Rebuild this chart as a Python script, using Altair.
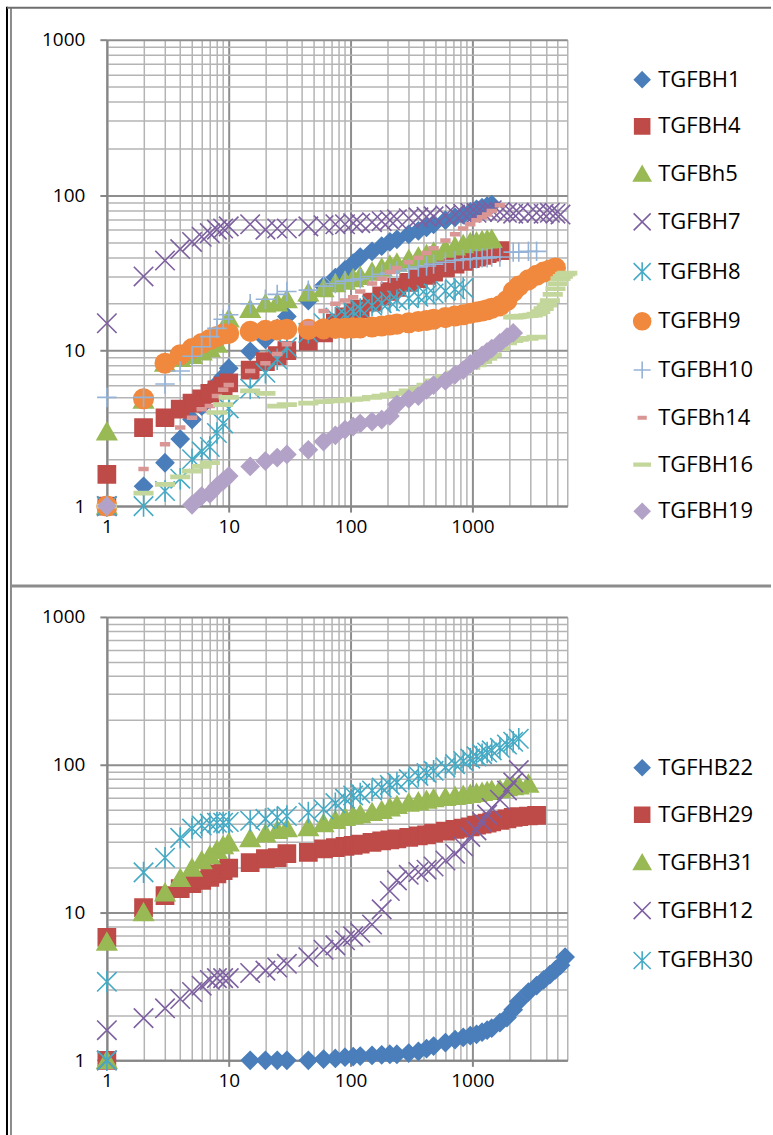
import altair as alt
import pandas as pd

# ---------------- data ----------------
TIMES = [1, 1, 2, 3, 4, 5, 6, 7, 8, 9, 10,
         15, 20, 25, 30, 45, 60,
         75, 90, 105, 120,
         150, 180, 210, 240,
         300, 360, 420, 480,
         600, 720, 840, 960,
         1080, 1200, 1320, 1440,
         1680, 1920, 2160, 2400,
         2880, 3360, 3840, 4320, 4800, 5280, 5760]

N = None
TGFBH1 = [1, N, 1.34, 1.9, 2.7, 3.6, 4.4, 5.2, 6.1, 6.8, 7.7,
          9.9, 11.8, 13.9, 16.6, 21, 26,
          29.5, 33, 36.5, 40,
          43.5, 47, 50, 52,
          56, 59, 62, 65,
          69, 72, 75, 78,
          81, 83, 85, 87]
TGFBH4 = [1, 1.6, 3.2, 3.7, 4.2, 4.6, 4.9, 5.3, 5.6, 5.9, 6.2,
          7.5, 8.5, 9.3, 10, 11.5, 13,
          15, 16.5, 17.5, 18.5,
          20.5, 22.5, 24, 25.5,
          27.5, 29, 30.5, 32,
          34, 36, 37.5, 39,
          40, 41, 42, 43,
          44]
TGFBh5 = [1, 3.0, 4.8, 8.3, 8.9, 9.3, 9.8, 10.3, 11, 13, 16,
          18.4, 20, 20.3, 21.3, 23.5, 25,
          27, 28, 29, 30,
          32, 34, 35.5, 36.5,
          38.5, 40, 41.5, 43,
          45, 46.5, 48, 49.5,
          50, 51, 51.5, 52]
TGFBH7 = [1, 15, 30, 38, 45, 50, 54, 57, 60, 61, 63,
          65, 60, 61, 61, 63, 64,
          65, 65, 66, 66,
          67, 68, 69, 70,
          71, 72, 72.5, 73,
          74, 75, 76, 77,
          77, 78, 79, 80,
          78, 77, 76, 77,
          76, 77, 76, 77, 76, 75]
TGFBH8 = [1, N, 1.0, 1.25, 1.5, 2.0, 2.25, 2.4, 2.95, 3.4, 4.25,
          5.7, 7.2, 8.8, 10.5, 13, 15,
          16.3, 17, 17.8, 18.5,
          19.5, 20.2, 20.7, 21.1,
          21.7, 22.2, 22.8, 23.3,
          24.2, 24.8, 25.3]
TGFBH9 = [1, N, 4.9, 8.3, 9.4, 10.3, 11.1, 11.8, 12.3, 12.8, 12.9,
          13.3, 13.5, 13.6, 13.7, 13.7, 13.8,
          13.9, 13.9, 14, 14,
          14.2, 14.4, 14.6, 14.8,
          15.1, 15.4, 15.6, 15.9,
          16.3, 16.7, 17, 17.4,
          17.7, 18, 18.3, 18.7,
          19.4, 21, 24, 26,
          28.5, 30.5, 32, 33, 34]
TGFBH10 = [1, 5, 5, 6.1, 7.4, 9.2, 10.6, 12.3, 13.9, 15.9, 17,
           20, 21.4, 23, 24, 24.5, 26,
           27, 28, 28.5, 29,
           30, 31, 31.5, 32.5,
           33.5, 34.5, 35, 36,
           37, 38, 38.5, 39,
           39, 39.5, 39.5, 40,
           40, N, 43, 43,
           43.5, 43.5]
TGFBh14 = [1, N, 1.73, 2.5, 3.2, 3.7, 4.2, 4.4, 5.1, 5.6, 6.0,
           7.4, 8.3, 9.5, 11, 15, 18,
           20, 21, 22, 24,
           27, 29, 32, 34,
           37, 39.5, 42.5, 45.5,
           51, 56, 61, 65,
           69, 72, 75, 79,
           86]
TGFBH16 = [1, N, 1.21, 1.38, 1.54, 1.68, 1.8, 1.9, 4.0, 4.5, 5.0,
           5.5, 5.3, 4.4, 4.5, 4.6, 4.7,
           4.75, 4.8, 4.85, 4.9,
           5.0, 5.1, 5.2, 5.3,
           5.5, 5.7, 6.0, 6.4,
           6.8, 7.2, 7.5, 7.8,
           8.1, 8.5, 8.9, 9.4,
           10.3, 11.2, 11.6, 11.8,
           12.0, 12.2]
TGFBH16_UPPER_X = [2160, 2280, 2400, 2640, 2880, 3120, 3360, 3600, 3840, 4080,
                   4320, 4560, 4800, 5040, 5280, 5520, 5760, 6000]
TGFBH16_UPPER_Y = [16.4, 16.5, 16.6, 16.7, 16.8, 16.9, 17.2, 17.8, 18.6, 19.6,
                   21, 23, 25, 27, 29, 30, 31, 31.5]
TGFBH19 = [1, N, N, N, N, 1.02, 1.16, 1.2, 1.34, 1.45, 1.56,
           1.8, 1.95, 2.05, 2.15, 2.3, 2.6,
           2.85, 3.1, 3.25, 3.4,
           3.5, 3.6, 3.8, 4.5,
           4.9, 5.1, 5.6, 6.0,
           6.4, 7.0, 7.5, 8.2,
           8.7, 9.3, 9.8, 10.3,
           11.2, 12.2, 13.0]

TGFHB22 = [1, N, N, N, N, N, N, N, N, N, N,
           1.0, 1.0, 1.0, 1.0, 1.0, 1.02,
           1.03, 1.05, 1.06, 1.07,
           1.08, 1.09, 1.1, 1.1,
           1.12, 1.15, 1.2, 1.25,
           1.32, 1.38, 1.43, 1.47,
           1.5, 1.55, 1.6, 1.65,
           1.8, 1.95, 2.2, 2.5,
           2.9, 3.2, 3.5, 3.8, 4.1, 4.4, 5.0]
TGFBH29 = [1, 6.8, 10.8, 13, 14.5, 15.7, 16.5, 17.3, 18.3, 19.2, 20,
           21.8, 23.2, 23.5, 25, 25.5, 27,
           27.5, 28, 28.5, 29,
           29.8, 30.5, 31, 31.5,
           32.3, 33, 33.5, 34.5,
           35.5, 36.5, 37.3, 38,
           39, 39.7, 40.3, 41,
           42, 43, 44, 44.5,
           45, 45.5]
TGFBH31 = [1, 6.3, 10, 13.6, 17, 20, 22.4, 24.3, 26.3, 28.3, 29.6,
           31.6, 34, 36, 37, 37.5, 40,
           42, 44, 45, 46,
           47.5, 49, 51, 53,
           55, 56, 57.5, 59,
           60, 61, 62, 63,
           64, 65, 66, 67,
           68, 70, 71, 72,
           74]
TGFBH12 = [1, 1.6, 1.93, 2.25, 2.6, 2.9, 3.2, 3.5, 3.6, 3.6, 3.6,
           3.9, 4.05, 4.25, 4.5, 5.0, 5.6,
           6.0, 6.5, 6.9, 7.3,
           8.3, 10.5, 14, 16.5,
           18, 18.8, 19.5, 20.5,
           22.5, 25, 28, 32.5,
           36, 41, 46, 51,
           58, 67, 76, 92]
TGFBH30 = [1, 3.4, 18.7, 23.5, 32, 37, 38.8, 40, 40.5, 40.5, 41,
           41.8, 43, 44, 45, 47.5, 50,
           55, 59, 62, 64,
           67, 70, 73, 76,
           80, 84, 88, 91,
           96, 101, 106, 110,
           114, 118, 121, 125,
           130, 137, 143, 150]

TOP_NAMES = ["TGFBH1", "TGFBH4", "TGFBh5", "TGFBH7", "TGFBH8",
             "TGFBH9", "TGFBH10", "TGFBh14", "TGFBH16", "TGFBH19"]
TOP_SERIES = [[(TIMES, TGFBH1)], [(TIMES, TGFBH4)], [(TIMES, TGFBh5)],
              [(TIMES, TGFBH7)], [(TIMES, TGFBH8)], [(TIMES, TGFBH9)],
              [(TIMES, TGFBH10)], [(TIMES, TGFBh14)],
              [(TIMES, TGFBH16), (TGFBH16_UPPER_X, TGFBH16_UPPER_Y)],
              [(TIMES, TGFBH19)]]
BOTTOM_NAMES = ["TGFHB22", "TGFBH29", "TGFBH31", "TGFBH12", "TGFBH30"]
BOTTOM_SERIES = [[(TIMES, TGFHB22)], [(TIMES, TGFBH29)], [(TIMES, TGFBH31)],
                 [(TIMES, TGFBH12)], [(TIMES, TGFBH30)]]

X_TICKS = [1, 2, 3, 4, 5, 6, 7, 8, 9, 10, 20, 30, 40, 50, 60, 70, 80, 90,
           100, 200, 300, 400, 500, 600, 700, 800, 900,
           1000, 2000, 3000, 4000, 5000, 6000]
Y_TICKS = [1, 2, 3, 4, 5, 6, 7, 8, 9, 10, 20, 30, 40, 50, 60, 70, 80, 90,
           100, 200, 300, 400, 500, 600, 700, 800, 900, 1000]

# ---------------- styling ----------------
BLUE, RED, GREEN, PURPLE, AQUA, ORANGE = "#4A7EBB", "#BE4B48", "#98B954", "#7D60A0", "#46AAC5", "#F0893E"
LBLUE, PINK, LGREEN, LAV = "#95B3D7", "#D99694", "#C3D69B", "#B3A2C7"
DIAMOND = "M0,-0.9L0.9,0L0,0.9L-0.9,0Z"
SQUARE = "M-0.88,-0.88L0.88,-0.88L0.88,0.88L-0.88,0.88Z"
TRIANGLE = "M0,-0.95L1,0.8L-1,0.8Z"
XMARK = "M-1,-1L1,1M-1,1L1,-1"
ASTER = "M-1,-1L1,1M-1,1L1,-1M0,-1.1L0,1.1"
PLUS = "M-1,0L1,0M0,-1L0,1"
SDASH = "M-0.45,-0.15L0.45,-0.15L0.45,0.15L-0.45,0.15Z"
LDASH = "M-0.95,-0.16L0.95,-0.16L0.95,0.16L-0.95,0.16Z"

TOP_COLORS = [BLUE, RED, GREEN, PURPLE, AQUA, ORANGE, LBLUE, PINK, LGREEN, LAV]
TOP_SHAPES = [DIAMOND, SQUARE, TRIANGLE, XMARK, ASTER, "circle", PLUS, SDASH, LDASH, DIAMOND]
BOTTOM_COLORS = [BLUE, RED, GREEN, PURPLE, AQUA]
BOTTOM_SHAPES = [DIAMOND, SQUARE, TRIANGLE, XMARK, ASTER]

FONT = "Open Sans"
MAJOR = "indexof([1,10,100,1000], datum.value) >= 0"


def frame(names, series):
    rows = []
    for name, segs in zip(names, series):
        for xs, ys in segs:
            for t, v in zip(xs, ys):
                if v is not None:
                    rows.append({"t": t, "v": v, "series": name})
    return pd.DataFrame(rows)


def axis_x():
    return alt.Axis(values=X_TICKS, format="d", labelExpr=MAJOR + " ? datum.label : ''",
                    title=None, grid=True,
                    gridColor={"condition": {"test": MAJOR, "value": "#8E8E8E"}, "value": "#B4B4B4"},
                    gridWidth={"condition": {"test": MAJOR, "value": 2}, "value": 1.5},
                    tickColor={"condition": {"test": MAJOR, "value": "#868686"}, "value": "transparent"},
                    tickSize=6, tickWidth=2, domainColor="#868686", domainWidth=2,
                    labelFont=FONT, labelFontSize=19, labelColor="black", labelPadding=5,
                    labelFlush=False, labelOverlap=False)


def axis_y():
    return alt.Axis(values=Y_TICKS, format="d", labelExpr=MAJOR + " ? datum.label : ''",
                    title=None, grid=True,
                    gridColor={"condition": {"test": MAJOR, "value": "#8E8E8E"}, "value": "#B4B4B4"},
                    gridWidth={"condition": {"test": MAJOR, "value": 2}, "value": 1.5},
                    tickColor={"condition": {"test": MAJOR, "value": "#868686"}, "value": "transparent"},
                    tickSize=7, tickWidth=2, domainColor="#868686", domainWidth=2,
                    labelFont=FONT, labelFontSize=19, labelColor="black", labelPadding=15,
                    labelFlush=False, labelOverlap=False)


def panel(names, series, colors, shapes, height, legend_y, row_pad):
    df = frame(names, series)
    leg = alt.Legend(title=None, orient="none", legendX=525, legendY=legend_y,
                     direction="vertical", symbolSize=290, symbolStrokeWidth=1.6,
                     labelFont=FONT, labelFontSize=22, labelColor="black",
                     rowPadding=row_pad, labelOffset=5, padding=0)
    pts = alt.Chart(df).mark_point(filled=True, opacity=1, size=380, strokeWidth=1.6).encode(
        x=alt.X("t:Q", scale=alt.Scale(type="log", domain=[1, 6000], nice=False), axis=axis_x()),
        y=alt.Y("v:Q", scale=alt.Scale(type="log", domain=[1, 1000], nice=False), axis=axis_y()),
        fill=alt.Fill("series:N", scale=alt.Scale(domain=names, range=colors), legend=leg),
        stroke=alt.Stroke("series:N", scale=alt.Scale(domain=names, range=colors), legend=leg),
        shape=alt.Shape("series:N", scale=alt.Scale(domain=names, range=shapes), legend=leg),
    )
    return pts.properties(width=461, height=height)


top = panel(TOP_NAMES, TOP_SERIES, TOP_COLORS, TOP_SHAPES, 467, 29, 24.8)
bottom = panel(BOTTOM_NAMES, BOTTOM_SERIES, BOTTOM_COLORS, BOTTOM_SHAPES, 444, 140, 25)

# page frame (Word table / chart borders)
one = pd.DataFrame({"k": [0]})
black_left = alt.Chart(one).mark_rule(color="black", strokeWidth=2).encode(
    x=alt.value(-100), y=alt.value(-33), y2=alt.value(1097))
grey_left = alt.Chart(one).mark_rule(color="#8C8C8C", strokeWidth=2).encode(
    x=alt.value(-96), y=alt.value(-32), y2=alt.value(1097))
grey_top = alt.Chart(one).mark_rule(color="#6E6E6E", strokeWidth=2).encode(
    x=alt.value(-100), x2=alt.value(665), y=alt.value(-32))
grey_mid = alt.Chart(one).mark_rule(color="#8C8C8C", strokeWidth=3).encode(
    x=alt.value(-96), x2=alt.value(665), y=alt.value(547))

top_layer = alt.layer(top, black_left, grey_left, grey_top, grey_mid)

chart = alt.vconcat(top_layer, bottom, spacing=111, bounds="flush").resolve_scale(
    fill="independent", stroke="independent", shape="independent"
).resolve_legend(
    fill="independent", stroke="independent", shape="independent"
).properties(
    padding={"left": 6, "top": 5, "right": 0, "bottom": 0}, background="white"
).configure_view(stroke=None)

chart.save("out.html", embed_options={"renderer": "svg", "actions": False})
